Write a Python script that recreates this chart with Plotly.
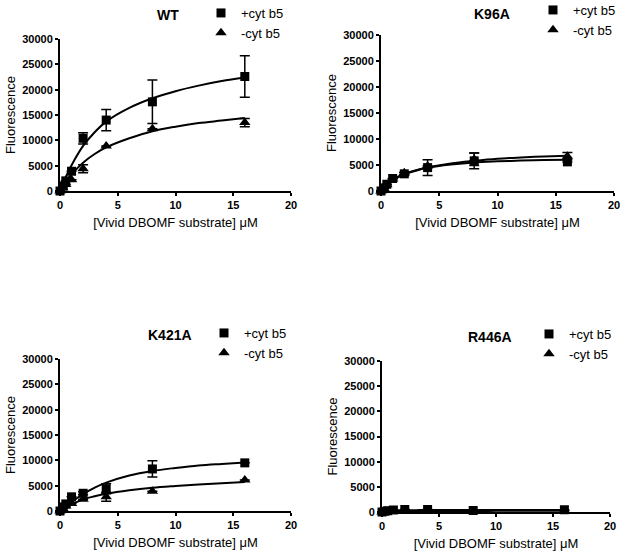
import plotly.graph_objects as go

# ---------------- data ----------------
conc = [0, 0.25, 0.5, 1, 2, 4, 8, 16]          # [Vivid DBOMF substrate] uM
fit_x = [0, 0.5, 1, 2, 3, 4, 6, 8, 10, 12, 14, 16]

panel_titles = ["WT", "K96A", "K421A", "R446A"]
series_names = ["+cyt b5", "-cyt b5"]

wt_plus = [0, 1000, 2000, 3900, 10400, 14000, 17600, 22600]
wt_plus_err = [0, 0, 0, 0, 1100, 2100, 4300, 4100]
wt_minus = [0, 600, 1300, 2200, 4400, 8900, 12300, 13500]
wt_minus_err = [0, 0, 0, 0, 800, 0, 0, 800]
wt_plus_fit = [0, 2800, 5100, 8900, 11600, 13700, 16400, 18300, 19700, 20800, 21700, 22400]
wt_minus_fit = [0, 1800, 3300, 5600, 7300, 8600, 10400, 11800, 12700, 13400, 13900, 14400]

k96a_plus = [0, 600, 1300, 2400, 3300, 4500, 5800, 5600]
k96a_plus_err = [0, 0, 0, 0, 300, 1500, 1500, 0]
k96a_minus = [0, 500, 1200, 2300, 3500, 4800, 6100, 6700]
k96a_minus_err = [0, 0, 0, 0, 0, 0, 1200, 700]
k96a_plus_fit = [0, 1200, 2200, 3300, 4000, 4500, 5100, 5500, 5700, 5850, 5950, 6000]
k96a_minus_fit = [0, 1100, 2000, 3200, 3900, 4500, 5300, 5800, 6200, 6450, 6650, 6800]

k421a_plus = [0, 800, 1400, 2800, 3500, 4400, 8300, 9500]
k421a_plus_err = [0, 0, 0, 0, 300, 1000, 1600, 0]
k421a_minus = [0, 500, 1000, 1500, 2300, 2800, 3900, 6100]
k421a_minus_err = [0, 0, 0, 0, 0, 900, 0, 0]
k421a_plus_fit = [0, 800, 1700, 3400, 4600, 5600, 7000, 7900, 8500, 9000, 9300, 9550]
k421a_minus_fit = [0, 700, 1300, 2300, 2900, 3400, 4100, 4600, 4950, 5250, 5500, 5700]

r446a_plus = [0, 150, 250, 400, 500, 500, 300, 450]
r446a_plus_err = [0, 0, 0, 0, 0, 0, 0, 0]
r446a_minus = [0, 50, 100, 150, 200, 200, 200, 250]
r446a_minus_err = [0, 0, 0, 0, 0, 0, 0, 0]
r446a_plus_fit = [0, 200, 300, 350, 370, 380, 390, 400, 405, 408, 410, 410]
r446a_minus_fit = [0, 80, 130, 170, 190, 200, 210, 220, 225, 228, 230, 230]

x_ticks = [0, 5, 10, 15, 20]
y_ticks = [0, 5000, 10000, 15000, 20000, 25000, 30000]

panels = [
    (wt_plus, wt_plus_err, wt_minus, wt_minus_err, wt_plus_fit, wt_minus_fit),
    (k96a_plus, k96a_plus_err, k96a_minus, k96a_minus_err, k96a_plus_fit, k96a_minus_fit),
    (k421a_plus, k421a_plus_err, k421a_minus, k421a_minus_err, k421a_plus_fit, k421a_minus_fit),
    (r446a_plus, r446a_plus_err, r446a_minus, r446a_minus_err, r446a_plus_fit, r446a_minus_fit),
]

# ---------------- layout geometry (screen pixels) ----------------
W, H = 624, 557
# (x_left, x_right, y_top, y_bottom) of each plot area
areas = [(60, 291, 39, 191), (381, 614, 35, 191), (60, 291, 359, 511), (382, 610, 361, 512)]
title_pos = [(168, 15), (492, 14), (170, 335), (490, 337)]
# legend box (left, top)
legend_pos = [(201, -2), (533, -5), (204, 318), (529, 319)]


def px(x):
    return x / W


def py(y):
    return 1 - y / H


FONT = "Liberation Sans, Arial, sans-serif"
fig = go.Figure()
layout = dict(
    width=W, height=H, margin=dict(l=0, r=0, t=0, b=0, autoexpand=False),
    paper_bgcolor="white", plot_bgcolor="white",
    font=dict(family=FONT, color="black"),
    annotations=[],
)

for i, (p, pe, m, me, pf, mf) in enumerate(panels):
    n = "" if i == 0 else str(i + 1)
    xa, ya = "x" + n, "y" + n
    leg = "legend" + n
    fig.add_trace(go.Scatter(x=fit_x, y=pf, mode="lines", line=dict(color="black", width=2, shape="spline"),
                             xaxis=xa, yaxis=ya, showlegend=False, hoverinfo="skip", cliponaxis=False))
    fig.add_trace(go.Scatter(x=fit_x, y=mf, mode="lines", line=dict(color="black", width=2, shape="spline"),
                             xaxis=xa, yaxis=ya, showlegend=False, hoverinfo="skip", cliponaxis=False))
    fig.add_trace(go.Scatter(x=conc, y=p, mode="markers", name=series_names[0],
                             marker=dict(symbol="square", size=9, color="black"),
                             error_y=dict(type="data", array=pe, color="black", thickness=1.5, width=5),
                             xaxis=xa, yaxis=ya, legend=leg, cliponaxis=False))
    fig.add_trace(go.Scatter(x=conc, y=m, mode="markers", name=series_names[1],
                             marker=dict(symbol="triangle-up", size=10, color="black"),
                             error_y=dict(type="data", array=me, color="black", thickness=1.5, width=5),
                             xaxis=xa, yaxis=ya, legend=leg, cliponaxis=False))

    xl, xr, yt, yb = areas[i]
    axis_common = dict(showgrid=False, zeroline=False, showline=True, linecolor="black", linewidth=2,
                       ticks="outside", ticklen=3, tickwidth=2, tickcolor="black", tickformat="d",
                       tickfont=dict(family=FONT, size=11, color="black", weight="bold"))
    layout["xaxis" + n] = dict(axis_common, domain=[px(xl), px(xr)], range=[0, 20], tickvals=x_ticks,
                               anchor=ya, title=dict(text="[Vivid DBOMF substrate] \u03bcM",
                                                     font=dict(size=13), standoff=8))
    layout["yaxis" + n] = dict(axis_common, domain=[py(yb), py(yt)], range=[0, 30000],
                               tickvals=y_ticks, anchor=xa,
                               title=dict(text="Fluorescence", font=dict(size=13), standoff=4))
    lx, ly = legend_pos[i]
    layout[leg] = dict(x=px(lx), y=py(ly), xanchor="left", yanchor="top", bgcolor="rgba(0,0,0,0)",
                       font=dict(family=FONT, size=13, color="black"), itemwidth=30, tracegroupgap=0)
    tx, ty = title_pos[i]
    layout["annotations"].append(dict(text=panel_titles[i], x=px(tx), y=py(ty), xref="paper", yref="paper",
                                      xanchor="center", yanchor="middle", showarrow=False,
                                      font=dict(family=FONT, size=14, color="black", weight="bold")))

fig.update_layout(**layout)
# remove the browser's default page margin so the figure fills the window exactly
fig.write_html("out.html", config={"displayModeBar": False},
               post_script="document.body.style.margin='0';")
